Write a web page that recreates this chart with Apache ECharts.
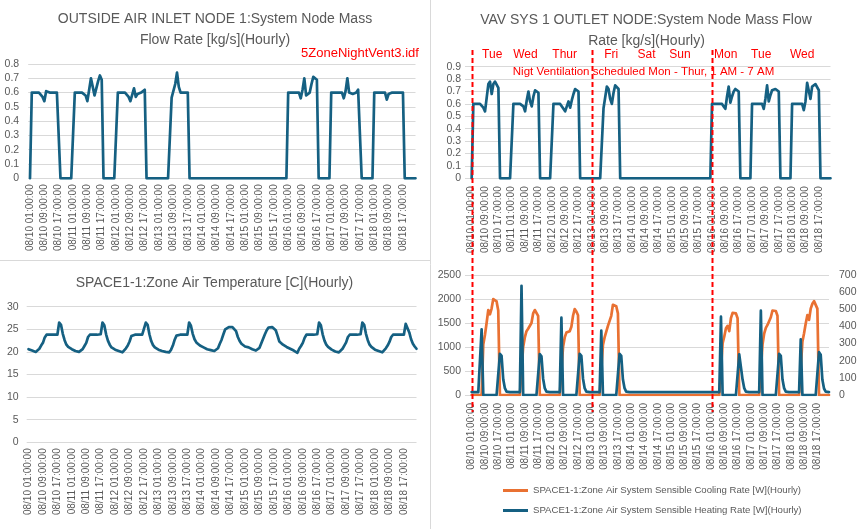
<!DOCTYPE html>
<html>
<head>
<meta charset="utf-8">
<script src="https://cdn.jsdelivr.net/npm/echarts@6/dist/echarts.min.js"></script>
<style>
  html, body { margin: 0; padding: 0; background: #fff; }
  #chart { width: 859px; height: 529px; }
</style>
</head>
<body>
<div id="chart"></div>
<script>
// hourly stamps, 08/10 01:00 .. 08/18 24:00
const days = ['08/10', '08/11', '08/12', '08/13', '08/14', '08/15', '08/16', '08/17', '08/18']
const hours = ['01:00:00', '02:00:00', '03:00:00', '04:00:00', '05:00:00', '06:00:00', '07:00:00', '08:00:00',
  '09:00:00', '10:00:00', '11:00:00', '12:00:00', '13:00:00', '14:00:00', '15:00:00', '16:00:00',
  '17:00:00', '18:00:00', '19:00:00', '20:00:00', '21:00:00', '22:00:00', '23:00:00', '24:00:00']
const weekdays = ['Tue', 'Wed', 'Thur', 'Fri', 'Sat', 'Sun', 'Mon', 'Tue', 'Wed']
const ventStarts = ['08/10 01:00:00', '08/13 01:00:00', '08/16 01:00:00']

// OUTSIDE AIR INLET NODE 1 mass flow [kg/s], one row per day
const oaFlow = [
  [0, .6, .6, .6, .6, .6, .6, .57, .54, .61, .6, .6, .6, .6, .6, .6, .6, 0, 0, 0, 0, 0, 0, 0],
  [0, .6, .6, .6, .6, .6, .6, .58, .54, .62, .70, .64, .58, .59, .68, .72, .69, 0, 0, 0, 0, 0, 0, 0],
  [0, .6, .6, .6, .6, .6, .6, .57, .54, .55, .63, .57, .59, .59, .6, .61, .62, 0, 0, 0, 0, 0, 0, 0],
  [0, 0, 0, 0, 0, 0, 0, .565, .57, .66, .74, .64, .6, .6, .6, .6, .6, 0, 0, 0, 0, 0, 0, 0],
  [0, 0, 0, 0, 0, 0, 0, 0, 0, 0, 0, 0, 0, 0, 0, 0, 0, 0, 0, 0, 0, 0, 0, 0],
  [0, 0, 0, 0, 0, 0, 0, 0, 0, 0, 0, 0, 0, 0, 0, 0, 0, 0, 0, 0, 0, 0, 0, 0],
  [.6, .6, .6, .6, .6, .6, .6, .56, .62, .70, .58, .59, .6, .66, .71, .71, .69, 0, 0, 0, 0, 0, 0, 0],
  [.6, .6, .6, .6, .6, .6, .6, .56, .61, .70, .6, .59, .59, .59, .6, .62, .61, 0, 0, 0, 0, 0, 0, 0],
  [.6, .6, .6, .6, .6, .6, .6, .55, .59, .6, .6, .6, .6, .6, .6, .6, .6, 0, 0, 0, 0, 0, 0, 0]
]

// VAV SYS 1 OUTLET NODE mass flow [kg/s]
const vavFlow = [
  [0, .6, .6, .6, .6, .6, .6, .57, .54, .65, .76, .78, .68, .76, .78, .78, .73, 0, 0, 0, 0, 0, 0, 0],
  [0, .6, .6, .6, .6, .6, .6, .58, .54, .63, .70, .62, .58, .66, .71, .72, .69, 0, 0, 0, 0, 0, 0, 0],
  [0, .6, .6, .6, .6, .6, .6, .56, .54, .55, .62, .57, .63, .68, .72, .72, .70, 0, 0, 0, 0, 0, 0, 0],
  [0, 0, 0, 0, 0, 0, 0, .565, .58, .74, .72, .64, .60, .69, .75, .74, .72, 0, 0, 0, 0, 0, 0, 0],
  [0, 0, 0, 0, 0, 0, 0, 0, 0, 0, 0, 0, 0, 0, 0, 0, 0, 0, 0, 0, 0, 0, 0, 0],
  [0, 0, 0, 0, 0, 0, 0, 0, 0, 0, 0, 0, 0, 0, 0, 0, 0, 0, 0, 0, 0, 0, 0, 0],
  [.6, .6, .6, .6, .6, .6, .6, .58, .56, .66, .74, .61, .66, .70, .72, .72, .70, 0, 0, 0, 0, 0, 0, 0],
  [.6, .6, .6, .6, .6, .6, .6, .56, .64, .75, .62, .67, .71, .72, .72, .71, .70, 0, 0, 0, 0, 0, 0, 0],
  [.6, .6, .6, .6, .6, .6, .6, .55, .62, .77, .76, .64, .74, .75, .76, .76, .71, 0, 0, 0, 0, 0, 0, 0]
]

// SPACE1-1 zone air temperature [C]
const zoneTemp = [
  [20.6, 20.4, 20.3, 20.1, 20.0, 19.9, 20.7, 21.4, 22.0, 23.2, 23.8, 23.8, 23.8, 23.8, 23.8, 23.8, 23.8, 26.5, 26.0, 24.0, 22.6, 21.6, 21.1, 20.8],
  [20.6, 20.4, 20.2, 20.1, 20.0, 19.9, 20.6, 21.3, 22.0, 23.3, 23.8, 23.8, 23.8, 23.8, 23.8, 23.8, 23.9, 26.5, 25.9, 23.9, 22.5, 21.6, 21.0, 20.7],
  [20.5, 20.3, 20.2, 20.0, 19.9, 19.9, 20.8, 21.4, 22.3, 23.5, 23.8, 23.8, 23.8, 23.8, 23.8, 23.8, 23.9, 26.5, 26.0, 23.9, 22.4, 21.5, 21.0, 20.7],
  [20.5, 20.3, 20.2, 20.1, 20.0, 19.9, 19.9, 20.5, 21.4, 22.7, 23.6, 23.8, 23.8, 23.8, 23.8, 23.8, 23.8, 26.5, 25.8, 24.0, 22.8, 22.1, 21.7, 21.4],
  [21.2, 21.0, 20.8, 20.6, 20.5, 20.4, 20.3, 20.2, 20.2, 20.8, 21.8, 22.7, 23.9, 25.0, 25.4, 25.5, 25.5, 25.5, 25.2, 24.6, 23.3, 22.4, 21.8, 21.5],
  [21.2, 21.1, 21.0, 20.8, 20.6, 20.5, 20.3, 20.3, 20.9, 21.9, 22.9, 23.9, 24.8, 25.4, 25.5, 25.5, 25.3, 24.8, 23.6, 22.3, 21.9, 21.6, 21.3, 21.1],
  [20.9, 20.7, 20.5, 20.3, 20.0, 19.8, 20.7, 21.3, 22.0, 23.1, 23.8, 23.8, 23.8, 23.8, 23.8, 23.8, 23.9, 26.5, 25.9, 23.9, 22.5, 21.6, 21.1, 20.7],
  [20.5, 20.3, 20.1, 20.0, 19.9, 19.8, 20.7, 21.4, 22.1, 23.3, 23.8, 23.8, 23.8, 23.8, 23.8, 23.8, 23.9, 26.5, 26.0, 24.0, 22.6, 21.6, 21.1, 20.8],
  [20.5, 20.3, 20.2, 20.0, 19.9, 19.9, 20.8, 21.4, 22.2, 23.3, 23.8, 23.8, 23.8, 23.8, 23.8, 23.8, 23.8, 26.2, 26.0, 24.3, 22.8, 21.8, 21.2, 20.7]
]

// SPACE1-1 zone air system sensible cooling rate [W]
const coolRate = [
  [0, 0, 0, 0, 0, 0, 0, 1050, 1250, 1500, 1770, 1680, 1800, 2000, 2030, 1950, 1760, 0, 0, 0, 0, 0, 0, 0],
  [0, 0, 0, 0, 0, 0, 0, 1000, 1200, 1330, 1380, 1340, 1500, 1700, 1770, 1750, 1650, 0, 0, 0, 0, 0, 0, 0],
  [0, 0, 0, 0, 0, 0, 0, 1000, 1200, 1300, 1330, 1330, 1420, 1650, 1790, 1740, 1660, 0, 0, 0, 0, 0, 0, 0],
  [0, 0, 0, 0, 0, 0, 0, 1040, 1200, 1320, 1440, 1420, 1650, 1880, 1900, 1850, 1700, 0, 0, 0, 0, 0, 0, 0],
  [0, 0, 0, 0, 0, 0, 0, 0, 0, 0, 0, 0, 0, 0, 0, 0, 0, 0, 0, 0, 0, 0, 0, 0],
  [0, 0, 0, 0, 0, 0, 0, 0, 0, 0, 0, 0, 0, 0, 0, 0, 0, 0, 0, 0, 0, 0, 0, 0],
  [0, 0, 0, 0, 0, 0, 0, 1080, 1220, 1390, 1440, 1330, 1600, 1710, 1735, 1700, 1600, 0, 0, 0, 0, 0, 0, 0],
  [0, 0, 0, 0, 0, 0, 0, 1050, 1280, 1400, 1460, 1430, 1620, 1760, 1790, 1750, 1650, 0, 0, 0, 0, 0, 0, 0],
  [0, 0, 0, 0, 0, 0, 0, 1110, 1285, 1490, 1665, 1565, 1800, 1900, 1955, 1930, 1800, 0, 0, 0, 0, 0, 0, 0]
]

// SPACE1-1 zone air system sensible heating rate [W]
const heatRate = [
  [17, 17, 17, 17, 17, 17, 383, 0, 0, 0, 0, 0, 0, 0, 0, 0, 0, 240, 228, 92, 40, 20, 17, 17],
  [17, 17, 17, 17, 17, 17, 637, 0, 0, 0, 0, 0, 0, 0, 0, 0, 0, 238, 226, 95, 40, 20, 17, 17],
  [17, 17, 17, 17, 17, 17, 451, 0, 0, 0, 0, 0, 0, 0, 0, 0, 0, 240, 228, 95, 40, 20, 17, 17],
  [17, 17, 17, 17, 17, 17, 375, 0, 0, 0, 0, 0, 0, 0, 0, 0, 0, 240, 228, 92, 40, 20, 17, 17],
  [17, 17, 17, 17, 17, 17, 17, 17, 17, 17, 17, 17, 17, 17, 17, 17, 17, 17, 17, 17, 17, 17, 17, 17],
  [17, 17, 17, 17, 17, 17, 17, 17, 17, 17, 17, 17, 17, 17, 17, 17, 17, 17, 17, 17, 17, 17, 17, 17],
  [17, 17, 17, 17, 17, 17, 457, 0, 0, 0, 0, 0, 0, 0, 0, 0, 0, 237, 226, 90, 40, 20, 17, 17],
  [17, 17, 17, 17, 17, 17, 492, 0, 0, 0, 0, 0, 0, 0, 0, 0, 0, 240, 228, 92, 40, 20, 17, 17],
  [17, 17, 17, 17, 17, 17, 325, 0, 0, 0, 0, 0, 0, 0, 0, 0, 0, 250, 235, 90, 38, 20, 17, 17]
]

const stamps = days.flatMap(d => hours.map(h => d + ' ' + h))
const tickIdx = stamps.map((s, i) => i).filter(i => i % 8 === 0)
const pairs = rows => rows.flat().map((v, i) => [i, v])

const gray = '#595959'
const lineGray = '#d9d9d9'
const blue = '#156082'
const orange = '#e97132'
const red = '#ff0000'
const font = "'Liberation Sans', Arial, sans-serif"

const xAxis = (gridIndex, min, margin) => ({
  type: 'value',
  gridIndex,
  min,
  max: stamps.length - 1,
  axisLine: { show: false },
  axisTick: { show: false },
  splitLine: { show: false },
  axisLabel: {
    customValues: tickIdx,
    rotate: 90,
    margin,
    fontSize: 10,
    color: gray,
    fontFamily: font,
    formatter: v => stamps[v]
  }
})

const yAxis = (gridIndex, max, interval, margin, extra) => Object.assign({
  type: 'value',
  gridIndex,
  min: 0,
  max,
  interval,
  axisLine: { show: false },
  axisTick: { show: false },
  axisLabel: { margin, fontSize: 10.5, color: gray, fontFamily: font, formatter: v => String(v) },
  splitLine: { lineStyle: { color: lineGray, width: 1 } }
}, extra || {})

const line = (name, data, color, xi, yi) => ({
  name,
  type: 'line',
  data,
  xAxisIndex: xi,
  yAxisIndex: yi,
  symbol: 'none',
  smooth: false,
  lineStyle: { color, width: 2.7, join: 'round', cap: 'round' },
  itemStyle: { color },
  emphasis: { disabled: true }
})

const chart = echarts.init(document.getElementById('chart'))

chart.setOption({
  animation: false,
  backgroundColor: '#fff',
  grid: [
    { left: 28.2, top: 64, width: 387.3, height: 114.3, outerBoundsMode: 'none' },
    { left: 465, top: 66.7, width: 365.5, height: 111.6, outerBoundsMode: 'none' },
    { left: 26.7, top: 306.7, width: 389.8, height: 135.6, outerBoundsMode: 'none' },
    { left: 465, top: 275, width: 364, height: 120, outerBoundsMode: 'none' }
  ],
  xAxis: [
    xAxis(0, -1, 6),
    xAxis(1, -4, 8),
    xAxis(2, -1, 6),
    xAxis(3, -4, 8)
  ],
  yAxis: [
    yAxis(0, 0.8, 0.1, 9),
    yAxis(1, 0.9, 0.1, 4),
    yAxis(2, 30, 5, 8),
    yAxis(3, 2500, 500, 4),
    yAxis(3, 700, 100, 10, { position: 'right', splitLine: { show: false } })
  ],
  legend: {
    data: [
      'SPACE1-1:Zone Air System Sensible Cooling Rate [W](Hourly)',
      'SPACE1-1:Zone Air System Sensible Heating Rate [W](Hourly)'
    ],
    orient: 'vertical',
    left: 503,
    top: 485.5,
    padding: 0,
    icon: 'rect',
    itemWidth: 25,
    itemHeight: 3,
    itemGap: 10,
    textStyle: { fontSize: 9.6, color: gray, fontFamily: font }
  },
  series: [
    line('OUTSIDE AIR INLET NODE 1', pairs(oaFlow), blue, 0, 0),
    line('VAV SYS 1 OUTLET NODE', pairs(vavFlow), blue, 1, 1),
    line('SPACE1-1:Zone Air Temperature', pairs(zoneTemp), blue, 2, 2),
    line('SPACE1-1:Zone Air System Sensible Cooling Rate [W](Hourly)', pairs(coolRate), orange, 3, 3),
    line('SPACE1-1:Zone Air System Sensible Heating Rate [W](Hourly)', pairs(heatRate), blue, 3, 4)
  ]
})

// titles, notes and the dashed schedule markers
const txt = (text, x, y, size, color) => ({
  type: 'text', x, y, z: 100,
  style: { text, fill: color, font: size + 'px ' + font, textAlign: 'center', textVerticalAlign: 'middle' }
})

const px = i => chart.convertToPixel({ xAxisIndex: 1 }, i)
const noteAt = [12.3, 32.2, 55.7, 83.6, 104.8, 124.8, 152.2, 173.5, 198]

const graphic = [
  { type: 'line', shape: { x1: 430.5, y1: 0, x2: 430.5, y2: 529 }, style: { stroke: lineGray, lineWidth: 1 } },
  { type: 'line', shape: { x1: 0, y1: 260.5, x2: 430, y2: 260.5 }, style: { stroke: lineGray, lineWidth: 1 } },
  txt('OUTSIDE AIR INLET NODE 1:System Node Mass', 215, 19.5, 14, gray),
  txt('Flow Rate [kg/s](Hourly)', 215, 40, 14, gray),
  txt('5ZoneNightVent3.idf', 360, 53, 13, red),
  txt('VAV SYS 1 OUTLET NODE:System Node Mass Flow', 646, 20.5, 14, gray),
  txt('Rate [kg/s](Hourly)', 646.5, 41, 14, gray),
  txt('Nigt Ventilation scheduled Mon - Thur, 1 AM - 7 AM', 643.5, 71.5, 11.5, red),
  txt('SPACE1-1:Zone Air Temperature [C](Hourly)', 214.5, 283, 14, gray)
]
weekdays.forEach((d, k) => graphic.push(txt(d, px(noteAt[k]), 54.5, 12, red)))
ventStarts.forEach(s => {
  const x = Math.round(px(stamps.indexOf(s))) + 0.5
  graphic.push({
    type: 'line', z: 100,
    shape: { x1: x, y1: 50, x2: x, y2: 412 },
    style: { stroke: red, lineWidth: 2, lineDash: [5, 3] }
  })
})

chart.setOption({ graphic })
</script>
</body>
</html>
